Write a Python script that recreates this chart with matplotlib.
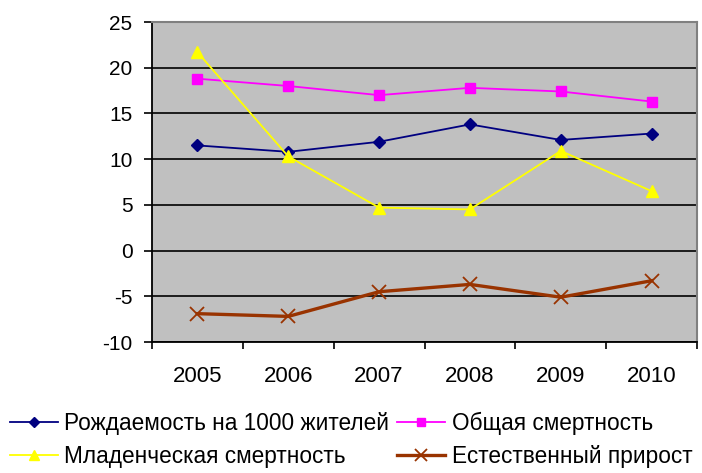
import numpy as np
import matplotlib.pyplot as plt
from matplotlib.lines import Line2D

plt.rcParams['font.family'] = ['Liberation Sans', 'DejaVu Sans']
plt.rcParams['axes.unicode_minus'] = False

# ── data ──────────────────────────────────────────────────────────────────────
years = ["2005", "2006", "2007", "2008", "2009", "2010"]
birth = [11.5, 10.8, 11.9, 13.8, 12.1, 12.8]
death_total = [18.8, 18.0, 17.0, 17.8, 17.4, 16.3]
death_infant = [21.7, 10.3, 4.7, 4.5, 10.9, 6.5]
natural_growth = [-6.9, -7.2, -4.5, -3.7, -5.1, -3.3]

labels = ["Рождаемость на 1000 жителей", "Общая смертность",
          "Младенческая смертность", "Естественный прирост"]

# ── figure ────────────────────────────────────────────────────────────────────
fig = plt.figure(figsize=(7.02, 4.73), dpi=100, facecolor="white")
ax = fig.add_axes([152/702, 1 - 342/473, (697 - 152)/702, (342 - 22)/473])
ax.set_facecolor("#c0c0c0")

x = np.arange(len(years))
l1, = ax.plot(x, birth, "-D", color="#000080", lw=1.3, ms=6.5, zorder=4)
l2, = ax.plot(x, death_total, "-s", color="#ff00ff", lw=1.3, ms=7, zorder=4)
l3, = ax.plot(x, death_infant, "-^", color="#ffff00", lw=1.3, ms=9, zorder=4)
l4, = ax.plot(x, natural_growth, "-x", color="#993300", lw=2.4, ms=10,
              mew=1.3, zorder=4)

ax.set_xlim(-0.5, len(years) - 0.5)
ax.set_ylim(-10, 25)
ax.set_yticks(np.arange(-10, 26, 5))
ax.yaxis.grid(True, color="black", lw=1.2)
ax.set_axisbelow(True)

# category ticks between, labels centered
ax.set_xticks(np.arange(-0.5, len(years), 1.0))
ax.set_xticklabels([])
ax.set_xticks(x, minor=True)
ax.set_xticklabels(years, minor=True)
ax.tick_params(axis="x", which="minor", length=0, labelsize=16, pad=17)
ax.tick_params(axis="x", which="major", length=5, width=1.2, direction="out")
ax.tick_params(axis="y", length=6, width=1.2, direction="out",
               labelsize=15, pad=8)

for side in ("top", "right"):
    ax.spines[side].set_color("#808080")
    ax.spines[side].set_linewidth(1.5)
for side in ("left", "bottom"):
    ax.spines[side].set_color("black")
    ax.spines[side].set_linewidth(1.3)

# ── legend ────────────────────────────────────────────────────────────────────
handles = [l1, l3, l2, l4]
leg_labels = [labels[0], labels[2], labels[1], labels[3]]
fig.legend(handles, leg_labels, ncol=2, loc="upper left",
           bbox_to_anchor=(10/702, 1 - 412/473), frameon=False,
           fontsize=16.3, handlelength=2.1, handletextpad=0.3,
           columnspacing=0.35, labelspacing=0.45, borderpad=0,
           borderaxespad=0, markerscale=0.85)

fig.savefig("out.png", dpi=100, facecolor="white")
